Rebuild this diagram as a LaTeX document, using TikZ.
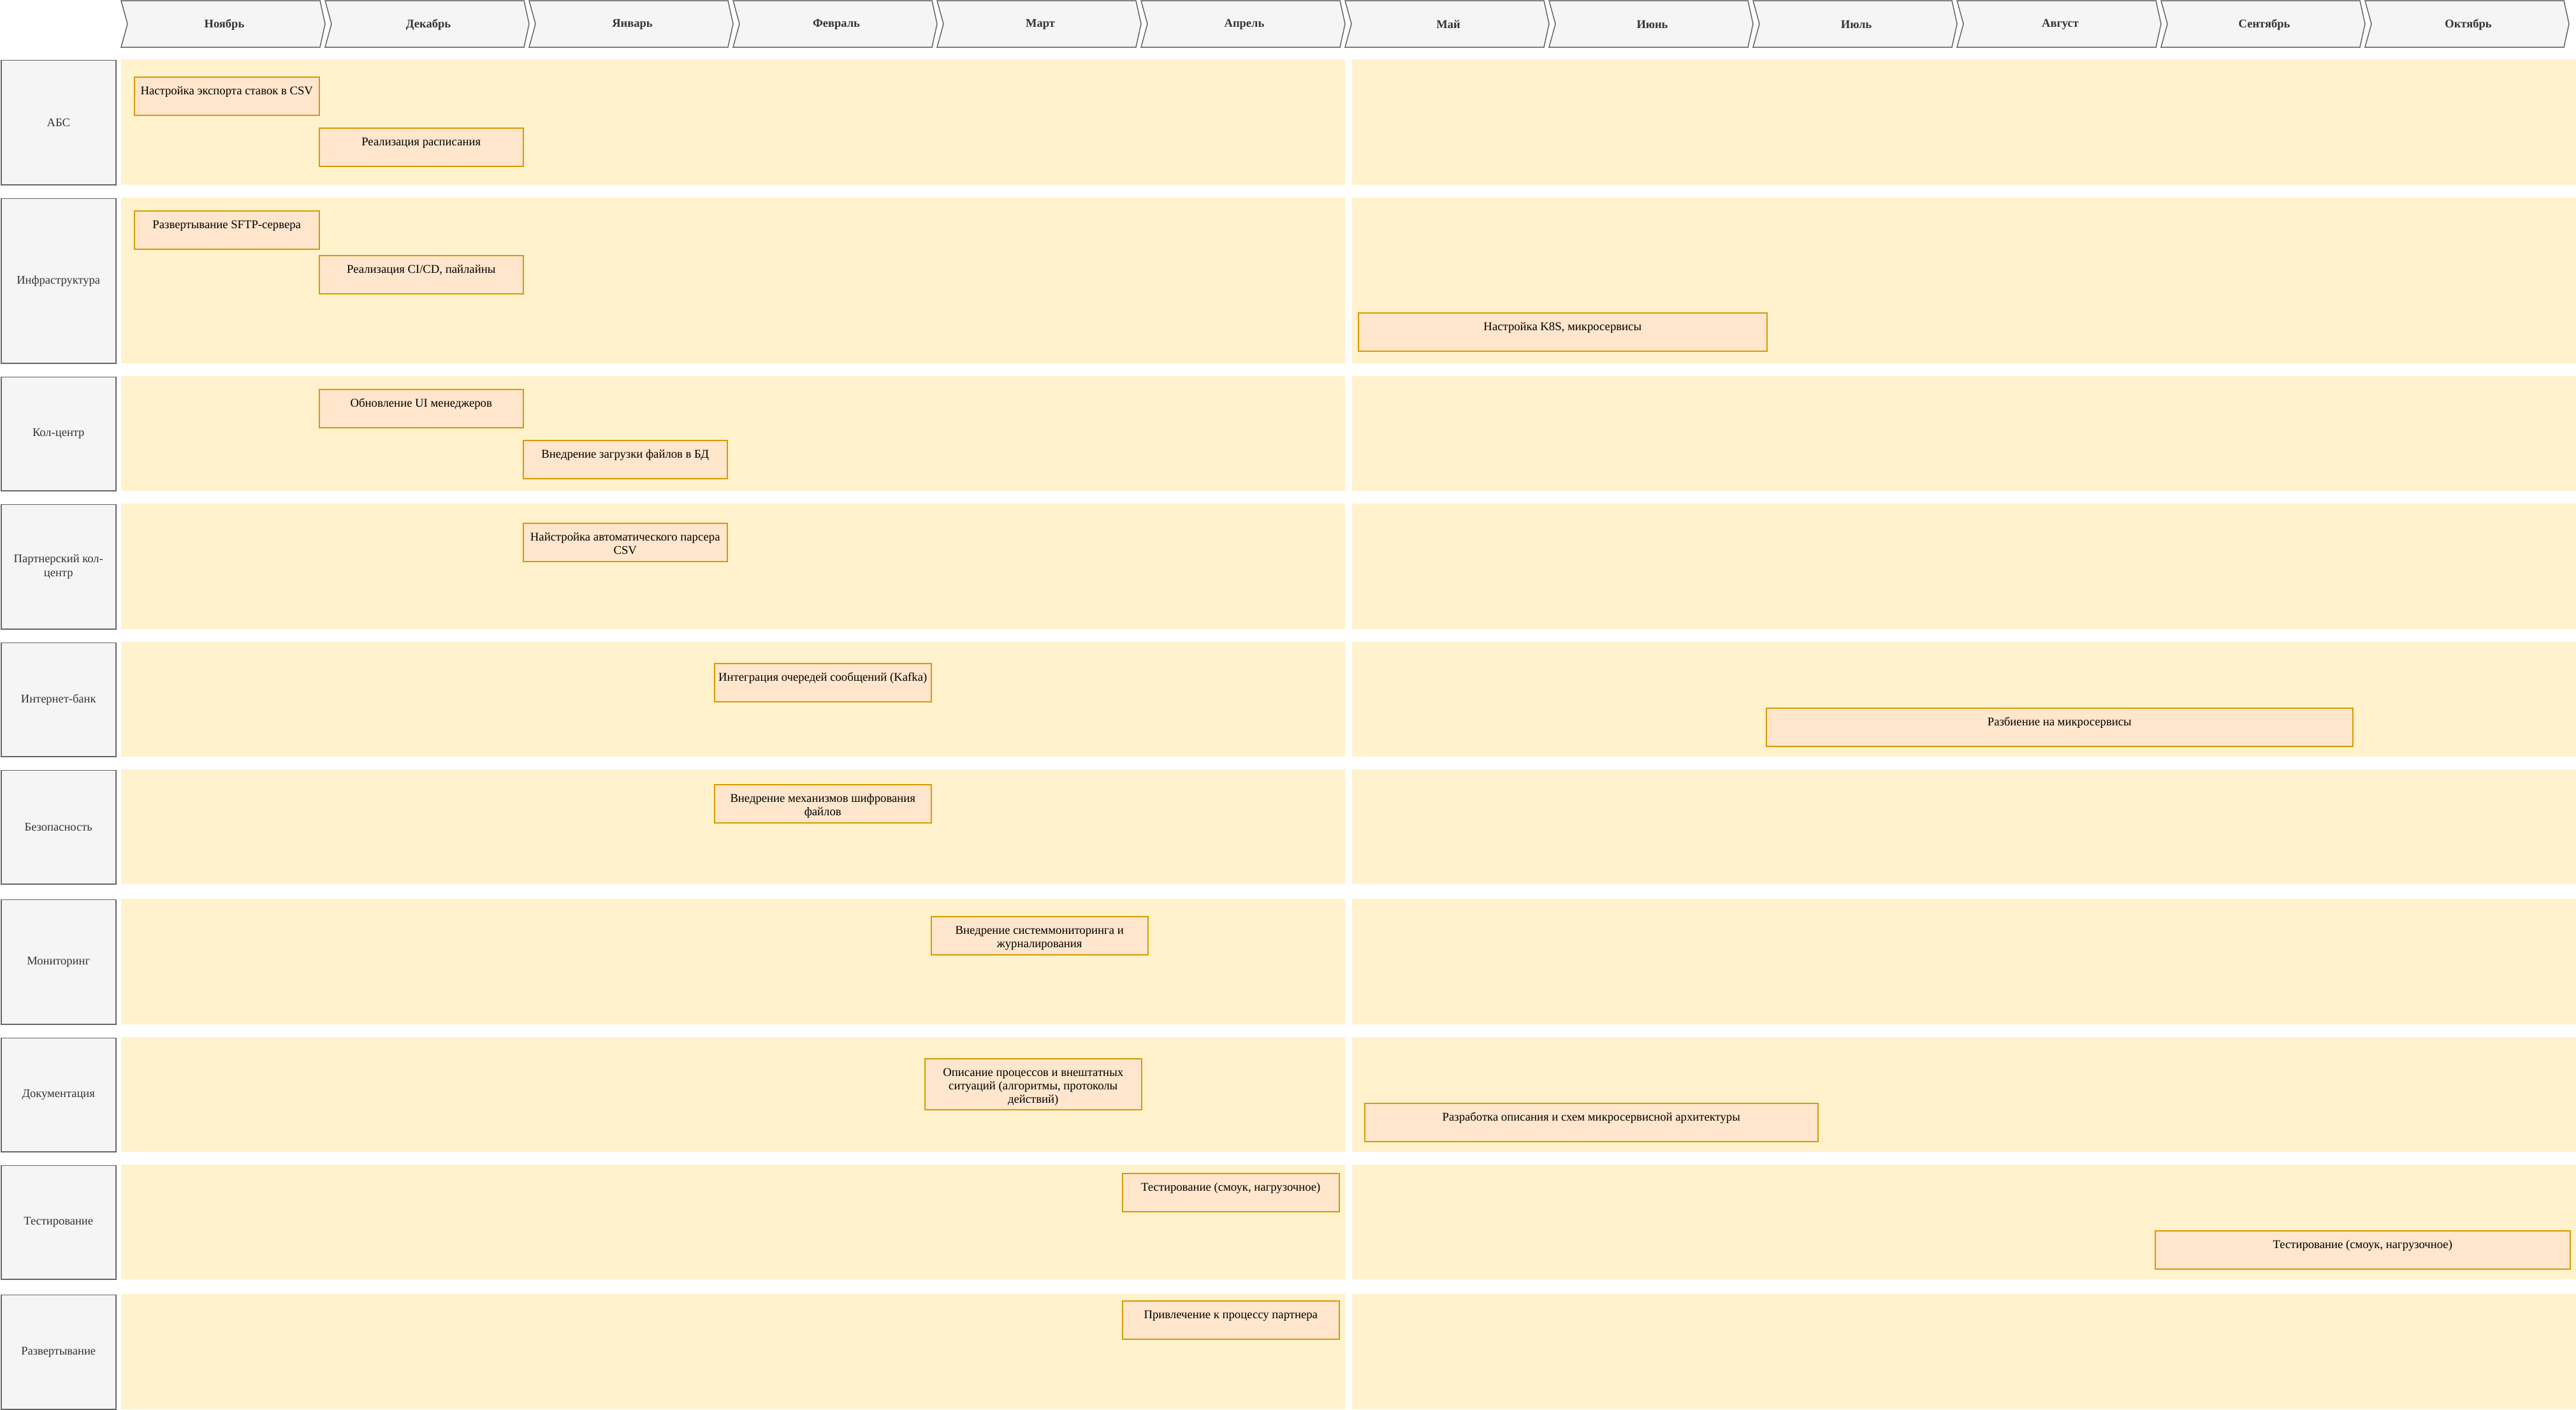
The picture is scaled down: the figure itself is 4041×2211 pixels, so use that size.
\documentclass[tikz,border=0pt]{standalone}
\usepackage{fontspec}
\setmainfont{Liberation Serif}
\definecolor{lanefill}{HTML}{FFF2CC}
\definecolor{taskfill}{HTML}{FFE6CC}
\definecolor{taskdraw}{HTML}{D79B00}
\definecolor{grayfill}{HTML}{F5F5F5}
\definecolor{graydraw}{HTML}{666666}
\definecolor{graytext}{HTML}{333333}
\tikzset{
  lane/.style={fill=lanefill, draw=none},
  rowlbl/.style={draw=graydraw, fill=grayfill, line width=1.5pt, inner sep=0pt, align=center,
    text=graytext, font=\fontsize{18.5}{22}\selectfont},
  chev/.style={draw=graydraw, fill=grayfill, line width=1.5pt},
  montxt/.style={inner sep=0pt, text=graytext, font=\fontsize{18.5}{22}\selectfont\bfseries},
  taskbox/.style={draw=taskdraw, fill=taskfill, line width=1.5pt, inner sep=0pt},
  tasktext/.style={inner sep=0pt, align=center, text=black, font=\fontsize{18.7}{21}\selectfont}
}
\newcommand{\mytask}[6]{%
  \node[taskbox, minimum width={#4-#2}, minimum height={#5-#3}, anchor=north west] (#1) at (#2,#3) {};
  \node[tasktext, anchor=north] (#1t) at ([yshift=-13.6pt]#1.north) {\strut #6};
}
\begin{document}
\begin{tikzpicture}[x=1pt,y=-1pt]
\fill[white] (0,0) rectangle (4041,2211);
\useasboundingbox (0,0) rectangle (4041,2211);
% header chevrons
\foreach \m [count=\i from 0] in {Ноябрь,Декабрь,Январь,Февраль,Март,Апрель,Май,Июнь,Июль,Август,Сентябрь,Октябрь}{
  \pgfmathsetmacro\xx{190+320*\i}
  \draw[chev] (\xx,1) -- ++(312,0) -- ++(8,36.5) -- ++(-8,36.5) -- ++(-312,0) -- ++(10,-36.5) -- cycle;
  \node[montxt] (m\i) at (\xx+162,38.5) {\m};
}
% rows
\foreach \t/\b/\nm [count=\i] in {93/290/АБС,310/570/Инфраструктура,590/770/Кол-центр,790/987/{Партнерский кол-\\центр},1007/1187/Интернет-банк,1207/1387/Безопасность,1410/1607/Мониторинг,1627/1807/Документация,1827/2007/Тестирование,2030/2211/Развертывание}{
  \fill[lane] (190,\t) rectangle (2110,\b);
  \fill[lane] (2121,\t) rectangle (4041,\b);
  \node[rowlbl, minimum width=180, minimum height={\b-\t-1.5}, anchor=north west] (r\i) at (1,\t+0.75) {\nm};
}
% tasks
\mytask{a1}{210}{120}{500}{180}{Настройка экспорта ставок в CSV}
\mytask{a2}{500}{200}{820}{260}{Реализация расписания}
\mytask{b1}{210}{330}{500}{390}{Развертывание SFTP-сервера}
\mytask{b2}{500}{400}{820}{460}{Реализация CI/CD, пайлайны}
\mytask{b3}{2130}{490}{2771}{550}{Настройка K8S, микросервисы}
\mytask{c1}{500}{610}{820}{670}{Обновление UI менеджеров}
\mytask{c2}{820}{690}{1140}{750}{Внедрение загрузки файлов в БД}
\mytask{d1}{820}{820}{1140}{880}{Найстройка автоматического парсера\\CSV}
\mytask{e1}{1120}{1040}{1460}{1100}{Интеграция очередей сообщений (Kafka)}
\mytask{e2}{2770}{1110}{3690}{1170}{Разбиение на микросервисы}
\mytask{f1}{1120}{1230}{1460}{1290}{Внедрение механизмов шифрования\\файлов}
\mytask{g1}{1460}{1437}{1800}{1497}{Внедрение системмониторинга и\\журналирования}
\mytask{h1}{1450}{1660}{1790}{1740}{Описание процессов и внештатных\\ситуаций (алгоритмы, протоколы\\действий)}
\mytask{h2}{2140}{1730}{2851}{1790}{Разработка описания и схем микросервисной архитектуры}
\mytask{i1}{1760}{1840}{2100}{1900}{Тестирование (смоук, нагрузочное)}
\mytask{i2}{3380}{1930}{4031}{1990}{Тестирование (смоук, нагрузочное)}
\mytask{j1}{1760}{2040}{2100}{2100}{Привлечение к процессу партнера}
\end{tikzpicture}
\end{document}
